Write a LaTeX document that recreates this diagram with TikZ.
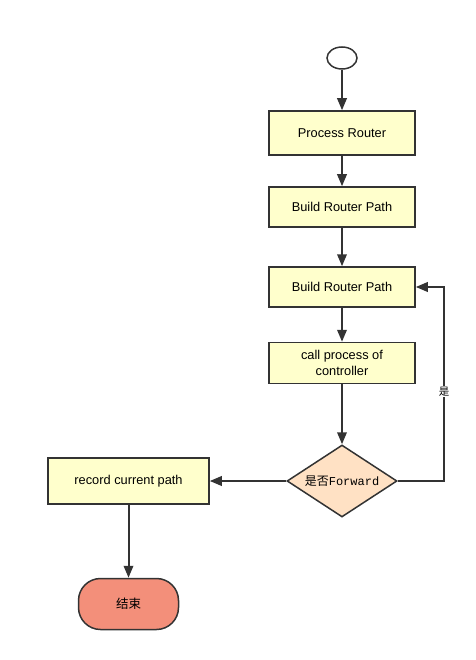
\documentclass[tikz,border=0pt]{standalone}
\usepackage{fontspec}
\setmainfont{Liberation Sans}
\setmonofont{Liberation Mono}
\newfontfamily\cjk{Noto Sans CJK SC}
\definecolor{boxyellow}{RGB}{255, 255, 204}
\definecolor{peach}{RGB}{255, 225, 196}
\definecolor{salmon}{RGB}{243, 143, 122}
\definecolor{linegray}{RGB}{51, 51, 51}
\usetikzlibrary{shapes, arrows.meta, positioning, calc}

\begin{document}
\begin{tikzpicture}[
  x=1pt, y=-1pt,
  stepbox/.style={draw=linegray, line width=1.5pt, fill=boxyellow, minimum width=146pt, minimum height=40pt, align=center, font=\fontsize{12.8}{16.5}\selectfont, inner sep=2pt},
  decide/.style={draw=linegray, line width=1.5pt, fill=peach, shape=diamond, aspect=1.53, minimum width=110pt, minimum height=72pt, inner sep=0pt, font=\fontsize{12}{14}\selectfont},
  flow/.style={draw=linegray, line width=2pt, -{Triangle[length=12pt, width=9.5pt]}}
]
  \useasboundingbox (0,0) rectangle (475,660);

  \node[draw=linegray, line width=1.5pt, fill=white, ellipse, minimum width=30pt, minimum height=22pt, inner sep=0pt] (start) at (342,58) {};
  \node[stepbox, minimum height=44pt] (process) at (342,133) {Process Router};
  \node[stepbox] (build1) at (342,207) {Build Router Path};
  \node[stepbox] (build2) at (342,287) {Build Router Path};
  \node[stepbox, minimum height=41pt] (call) at (342,363) {call process of\\controller};
  \node[decide] (fwd) at (342,481) {{\cjk 是否}\texttt{Forward}};
  \node[stepbox, minimum width=161pt, minimum height=46pt] (record) at (128.5,481) {record current path};
  \node[draw=linegray, line width=1.5pt, fill=salmon, rounded corners=22pt, minimum width=100pt, minimum height=51pt, font=\cjk\fontsize{12.5}{14}\selectfont] (finish) at (128.5,604) {结束};

  \coordinate (loop) at (444,481);

  \draw[flow] (start) -- (process);
  \draw[flow] (process) -- (build1);
  \draw[flow] (build1) -- (build2);
  \draw[flow] (build2) -- (call);
  \draw[flow] (call) -- (fwd);
  \draw[flow] (fwd.east) -- (loop) |- node[pos=0.23, fill=white, inner sep=1pt, font=\cjk\fontsize{10.5}{12}\selectfont] {是} (build2.east);
  \draw[flow] (fwd.west) -- (record.east);
  \draw[flow] (record) -- (finish);
\end{tikzpicture}
\end{document}
